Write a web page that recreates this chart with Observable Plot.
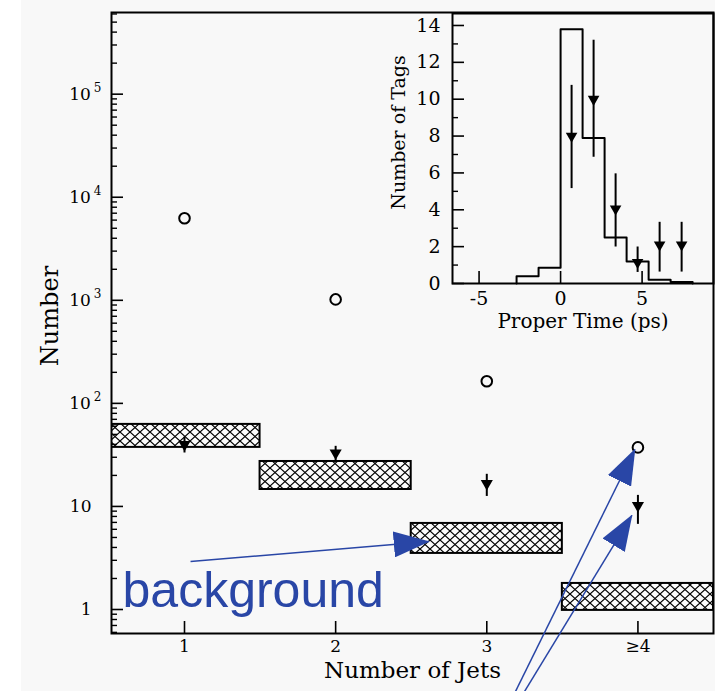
<!DOCTYPE html>
<html>
<head>
<meta charset="utf-8">
<script src="https://cdn.jsdelivr.net/npm/d3@7"></script>
<script src="https://cdn.jsdelivr.net/npm/@observablehq/plot@0.6"></script>
<style>
  html, body { margin: 0; padding: 0; }
  body { background: linear-gradient(to right, #ffffff 21px, #f8f8f8 21px); width: 715px; height: 691px; overflow: hidden; }
  #wrap { position: relative; width: 715px; height: 691px; color: black; }
  #wrap svg { position: absolute; overflow: visible; }
</style>
</head>
<body>
<div id="wrap"></div>
<script>
// ---------- main chart data ----------
const jetCats = [1, 2, 3, 4];
const jetTickLabels = ["1", "2", "3", "≥4"];
const totalEvents = [6250, 1020, 164, 37.4];          // open circles
const taggedEvents = [40, 33, 16.7, 10.2];            // down triangles
const taggedLo = [33, 27.3, 12.5, 6.7];
const taggedHi = [47, 38.3, 20.5, 12.8];
const bgX1 = [0.5, 1.5, 2.5, 3.5];
const bgX2 = [1.5, 2.5, 3.5, 4.5];
const bgLo = [37.4, 14.6, 3.5, 0.98];                 // hatched background bands
const bgHi = [62.5, 27.3, 6.84, 1.79];
const yMajorTicks = [1, 10, 100, 1000, 10000, 100000];
const yTickLabels = ["1", "10", "10^2", "10^3", "10^4", "10^5"];

// annotation (blue) arrows and label, in data units
const annoLabel = ["background"];
const annoLabelX = [0.59];
const annoLabelY = [1.5];
const arrowX1 = [1.04, 3.186, 3.245];
const arrowY1 = [2.92, 0.156, 0.156];
const arrowX2 = [2.616, 3.98, 3.96];
const arrowY2 = [4.57, 35.7, 8.2];

// ---------- inset data ----------
const binEdges = [-2.7, -1.35, 0, 1.35, 2.7, 4.05, 5.4, 6.75, 8.1];
const binCounts = [0.4, 0.85, 13.8, 7.9, 2.5, 1.2, 0.2, 0.08];
const tagTimes = [0.675, 2.025, 3.375, 4.725, 6.075, 7.425];
const tagCounts = [8.0, 10.0, 4.05, 1.15, 2.1, 2.1];
const tagLo = [5.15, 6.85, 1.98, 0.6, 0.62, 0.62];
const tagHi = [10.75, 13.2, 5.95, 1.98, 3.32, 3.32];
const insetXTicks = [-5, 0, 5];
const insetYMajor = [0, 2, 4, 6, 8, 10, 12, 14];
const insetYMinor = [1, 3, 5, 7, 9, 11, 13];

// ---------- build tables ----------
const jets = jetCats.map((x, i) => ({x, total: totalEvents[i], tag: taggedEvents[i], lo: taggedLo[i], hi: taggedHi[i]}));
const bands = bgX1.map((x1, i) => ({x1, x2: bgX2[i], y1: bgLo[i], y2: bgHi[i]}));
const arrows = arrowX1.map((x1, i) => ({x1, y1: arrowY1[i], x2: arrowX2[i], y2: arrowY2[i]}));
const labels = annoLabel.map((t, i) => ({t, x: annoLabelX[i], y: annoLabelY[i]}));

const yMinorTicks = [];
for (let d = -1; d <= 5; d++) for (let k = 2; k <= 9; k++) {
  const v = k * Math.pow(10, d);
  if (v > 0.585 && v < 6.2e5) yMinorTicks.push(v);
}
const fmtY = d => yTickLabels[yMajorTicks.indexOf(d)];
const fmtX = d => jetTickLabels[jetCats.indexOf(d)];

const blue = "#2946a6";
const serif = "DejaVu Serif";

const main = Plot.plot({
  width: 715, height: 691,
  marginLeft: 111, marginRight: 2, marginTop: 12, marginBottom: 58,
  x: {domain: [0.517, 4.5]},
  y: {type: "log", domain: [0.585, 6.2e5]},
  style: {background: "transparent", fontFamily: serif, color: "black"},
  marks: [
    Plot.rect(bands, {x1: "x1", x2: "x2", y1: "y1", y2: "y2", fill: "url(#xhatch)", stroke: "black", strokeWidth: 2, clip: true}),
    Plot.frame({strokeWidth: 2}),
    Plot.axisY(yMajorTicks, {tickSize: 12, dx: 12, fill: "none", strokeWidth: 1.6, label: null}),
    Plot.axisY(yMinorTicks, {tickSize: 6, dx: 6, fill: "none", strokeWidth: 1.4, label: null}),
    Plot.axisY(yMajorTicks, {tickSize: 0, tickPadding: 20, tickFormat: fmtY, fontSize: 17, label: null}),
    Plot.axisX(jetCats, {tickSize: 12, dy: -12, fill: "none", strokeWidth: 1.6, label: null}),
    Plot.axisX(jetCats, {tickSize: 0, tickPadding: 6, tickFormat: fmtX, fontSize: 17, label: null}),
    Plot.dot(jets, {x: "x", y: "total", r: 5.3, stroke: "black", strokeWidth: 2, fill: "none"}),
    Plot.ruleX(jets, {x: "x", y1: "lo", y2: "hi", strokeWidth: 2}),
    Plot.dot(jets, {x: "x", y: "tag", symbol: "triangle", rotate: 180, r: 4.5, fill: "black", stroke: "none"}),
    Plot.text(["Number"], {frameAnchor: "left", textAnchor: "middle", dx: -61, dy: -7, rotate: -90, fontSize: 24, fontFamily: serif}),
    Plot.text(["Number of Jets"], {frameAnchor: "bottom", textAnchor: "middle", dy: 44, fontSize: 23, fontFamily: serif}),
    Plot.link(arrows, {x1: "x1", y1: "y1", x2: "x2", y2: "y2", stroke: blue, strokeWidth: 1.5}),
    Plot.text(labels, {x: "x", y: "y", text: "t", textAnchor: "start", fontSize: 50, fontFamily: "Liberation Sans", fill: blue})
  ]
});

// hatch pattern + filled arrowheads
d3.select(main).insert("defs", ":first-child").html(
  `<pattern id="xhatch" patternUnits="userSpaceOnUse" width="10" height="9">
     <rect width="10" height="9" fill="#fcfcfc"/>
     <path d="M0,0L10,9M10,0L0,9" stroke="black" stroke-width="1.2"/>
   </pattern>
   <marker id="bluehead" markerUnits="userSpaceOnUse" markerWidth="36" markerHeight="26" viewBox="0 0 36 26" refX="35" refY="13" orient="auto">
     <path d="M0,0L36,13L0,26Z" fill="${blue}"/>
   </marker>`);
d3.select(main).selectAll('g[aria-label="link"] path').attr("marker-end", "url(#bluehead)");

// superscript exponents on y tick labels
d3.select(main).selectAll('g[aria-label="y-axis tick label"] text').each(function() {
  const s = this.textContent;
  if (s.includes("^")) {
    const [base, exp] = s.split("^");
    const t = d3.select(this);
    t.text(base);
    t.append("tspan").attr("dx", 3).attr("dy", -8).attr("font-size", 12).text(exp);
    const tr = t.attr("transform") || "";
    t.attr("transform", tr + " translate(10,0)");
  }
});

// ---------- inset ----------
const histPts = [{x: binEdges[0], y: 0}]
  .concat(binCounts.map((c, i) => ({x: binEdges[i], y: c})))
  .concat([{x: binEdges[binEdges.length - 1], y: 0}]);
const tags = tagTimes.map((x, i) => ({x, y: tagCounts[i], lo: tagLo[i], hi: tagHi[i]}));

const inset = Plot.plot({
  width: 335, height: 340,
  marginLeft: 72, marginRight: 2, marginTop: 13, marginBottom: 57,
  x: {domain: [-6.63, 9.38]},
  y: {domain: [0, 14.65]},
  style: {background: "transparent", fontFamily: serif, color: "black"},
  marks: [
    Plot.frame({strokeWidth: 2}),
    Plot.axisY(insetYMajor, {tickSize: 12, dx: 12, fill: "none", strokeWidth: 1.6, label: null}),
    Plot.axisY(insetYMinor, {tickSize: 6, dx: 6, fill: "none", strokeWidth: 1.4, label: null}),
    Plot.axisY(insetYMajor, {tickSize: 0, tickPadding: 12, fontSize: 19, label: null}),
    Plot.axisX(insetXTicks, {tickSize: 12, dy: -12, fill: "none", strokeWidth: 1.6, label: null}),
    Plot.axisX(insetXTicks, {tickSize: 0, tickPadding: 8, tickFormat: d => String(d), fontSize: 19, label: null}),
    Plot.line(histPts, {x: "x", y: "y", curve: "step-after", strokeWidth: 2}),
    Plot.ruleX(tags, {x: "x", y1: "lo", y2: "hi", strokeWidth: 2}),
    Plot.dot(tags, {x: "x", y: "y", symbol: "triangle", rotate: 180, r: 4.3, fill: "black", stroke: "none"}),
    Plot.text(["Number of Tags"], {frameAnchor: "left", textAnchor: "middle", dx: -54, dy: -16, rotate: -90, fontSize: 19, fontFamily: serif}),
    Plot.text(["Proper Time (ps)"], {frameAnchor: "bottom", textAnchor: "middle", dy: 44, fontSize: 20, fontFamily: serif})
  ]
});

main.style.left = "0px"; main.style.top = "0px";
inset.style.left = "380px"; inset.style.top = "0px";
const wrap = document.getElementById("wrap");
wrap.appendChild(main);
wrap.appendChild(inset);
</script>
</body>
</html>
